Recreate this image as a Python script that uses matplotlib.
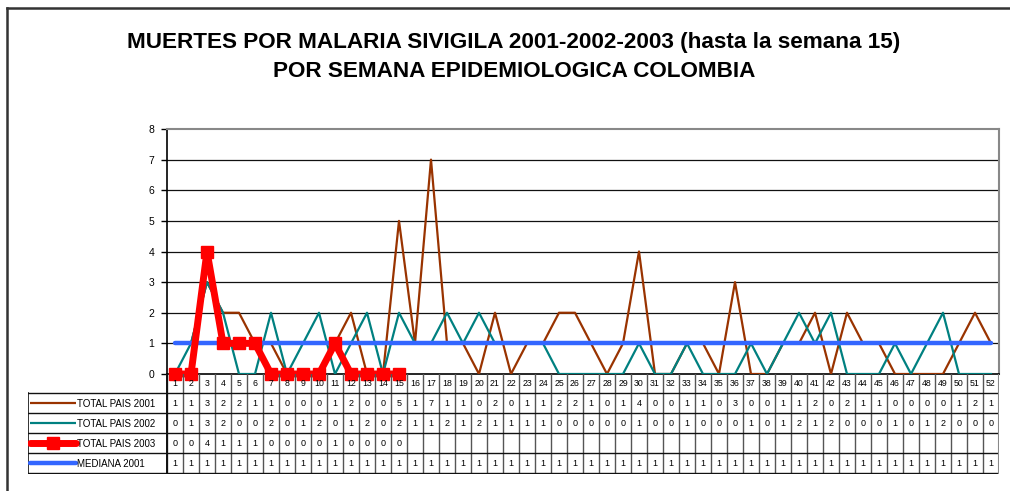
import matplotlib
matplotlib.use("Agg")
import matplotlib.pyplot as plt
from matplotlib.lines import Line2D
import numpy as np

plt.rcParams['font.family'] = ['Liberation Sans', 'DejaVu Sans']

weeks = list(range(1, 53))
total_2001 = [1, 1, 3, 2, 2, 1, 1, 0, 0, 0, 1, 2, 0, 0, 5, 1, 7, 1, 1, 0,
              2, 0, 1, 1, 2, 2, 1, 0, 1, 4, 0, 0, 1, 1, 0, 3, 0, 0, 1, 1,
              2, 0, 2, 1, 1, 0, 0, 0, 0, 1, 2, 1]
total_2002 = [0, 1, 3, 2, 0, 0, 2, 0, 1, 2, 0, 1, 2, 0, 2, 1, 1, 2, 1, 2,
              1, 1, 1, 1, 0, 0, 0, 0, 0, 1, 0, 0, 1, 0, 0, 0, 1, 0, 1, 2,
              1, 2, 0, 0, 0, 1, 0, 1, 2, 0, 0, 0]
total_2003 = [0, 0, 4, 1, 1, 1, 0, 0, 0, 0, 1, 0, 0, 0, 0]
mediana_2001 = [1] * 52

series_names = ["TOTAL PAIS 2001", "TOTAL PAIS 2002", "TOTAL PAIS 2003", "MEDIANA 2001"]
series_vals = [total_2001, total_2002, total_2003, mediana_2001]
yticks = list(range(0, 9))

title = ("MUERTES POR MALARIA SIVIGILA 2001-2002-2003 (hasta la semana 15)\n"
         "POR SEMANA EPIDEMIOLOGICA COLOMBIA")

W, H = 1010, 491
fig = plt.figure(figsize=(W / 100, H / 100), dpi=100)

def px_axes(x0, y0, x1, y1):
    # axes rectangle given in pixel coords (y from top)
    return fig.add_axes([x0 / W, 1 - y1 / H, (x1 - x0) / W, (y1 - y0) / H])

# outer frame (left + top only visible)
fig.add_artist(Line2D([7 / W, 7 / W], [0, 1 - 8 / H], color='#333333', lw=1.8,
                      transform=fig.transFigure))
fig.add_artist(Line2D([7 / W, 1], [1 - 8 / H, 1 - 8 / H], color='#333333', lw=1.8,
                      transform=fig.transFigure))

fig.text(514 / W, 1 - 57 / H, title, ha='center', va='center', fontsize=16.2,
         fontweight='bold', linespacing=1.45)

# ---- main plot ----
ax = px_axes(167, 129, 999, 374)
colors = ['#993300', '#008080', '#FF0000', '#3366FF']
ax.plot(weeks, total_2001, color=colors[0], lw=1.6, zorder=3)
ax.plot(weeks, total_2002, color=colors[1], lw=1.6, zorder=4)
ax.plot(weeks, mediana_2001, color=colors[3], lw=3.2, zorder=5, solid_capstyle='round')
ax.plot(weeks[:len(total_2003)], total_2003, color=colors[2], lw=5, marker='s',
        markersize=8, zorder=6, clip_on=False)

ax.set_xlim(0.5, 52.5)
ax.set_ylim(0, 8)
ax.set_yticks(yticks)
ax.set_yticklabels([str(v) for v in yticks], fontsize=7.5)
ax.tick_params(axis='y', direction='out', length=4, width=1, pad=5)
ax.set_xticks([])
for v in yticks[1:-1]:
    ax.axhline(v, color='#111111', lw=0.9, zorder=1)
ax.spines['top'].set_color('#888888')
ax.spines['top'].set_linewidth(1.5)
ax.spines['right'].set_color('#888888')
ax.spines['right'].set_linewidth(1.5)
ax.spines['left'].set_linewidth(1.2)
ax.spines['bottom'].set_linewidth(1.2)

# ---- data table ----
tx0 = 0.5 - (167 - 28) / 16.0
tb = px_axes(28, 374, 999, 474)
tb.set_xlim(tx0, 52.5)
tb.set_ylim(474, 374)
tb.axis('off')

row_top = [393, 413, 433, 453]
row_h = 20
# header cells
for w in weeks:
    tb.text(w, 383.5, str(w), ha='center', va='center', fontsize=6.3)
edges = np.arange(0.5, 53.5, 1.0)
for e in edges:
    tb.plot([e, e], [374, 473], color='#555555', lw=1.0)
tb.plot([0.5, 0.5], [374, 473], color='#111111', lw=1.4)
tb.plot([tx0, tx0], [393, 473], color='#111111', lw=1.2)
for y in row_top + [473]:
    tb.plot([tx0, 52.5], [y, y], color='#111111', lw=1.0)
tb.plot([52.5, 52.5], [374, 473], color='#888888', lw=1.5)

leg_x0 = 0.5 + (30 - 167) / 16.0
leg_x1 = 0.5 + (76 - 167) / 16.0
leg_lw = [1.6, 1.6, 5, 3.2]
for i, (name, vals) in enumerate(zip(series_names, series_vals)):
    yc = row_top[i] + row_h / 2
    tb.plot([leg_x0, leg_x1], [yc, yc], color=colors[i], lw=leg_lw[i],
            solid_capstyle='round' if i >= 2 else 'butt')
    if i == 2:
        tb.plot([(leg_x0 + leg_x1) / 2], [yc], marker='s', markersize=8, color=colors[i])
    tb.text(leg_x1 + 0.06, yc + 1, name, ha='left', va='center', fontsize=7)
    for w, v in zip(weeks, vals):
        tb.text(w, yc, str(v), ha='center', va='center', fontsize=6.5)

fig.savefig("out.png", dpi=100)
